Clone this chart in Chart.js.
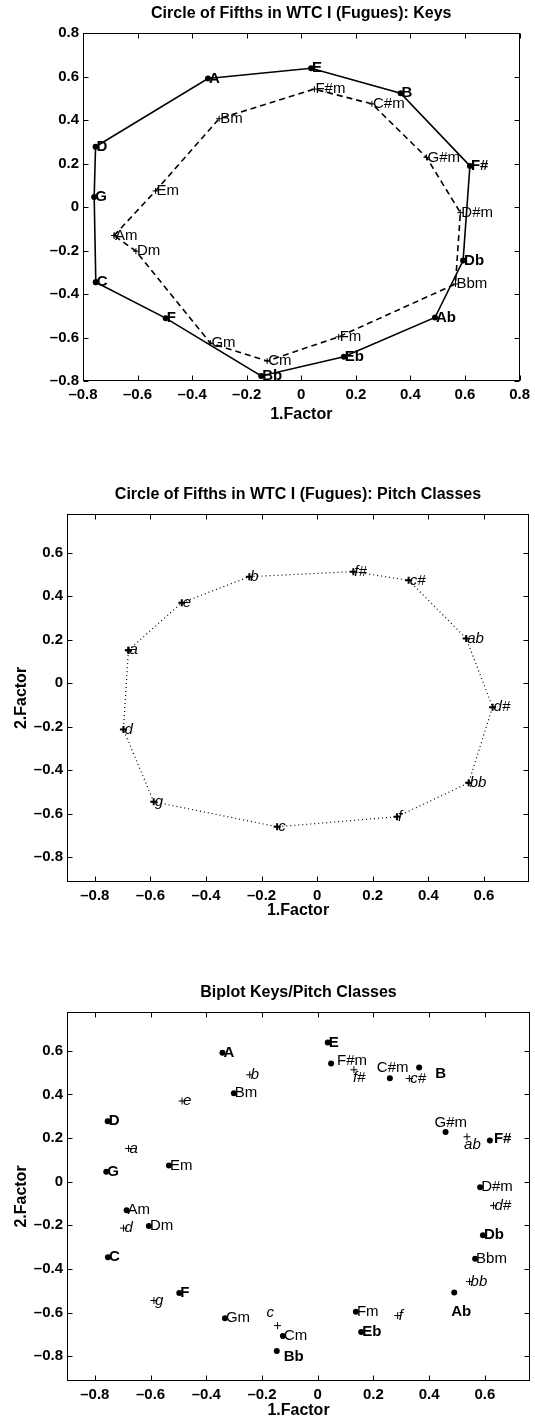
<!DOCTYPE html>
<html>
<head>
<meta charset="utf-8">
<script src="https://cdn.jsdelivr.net/npm/chart.js@4.4.0/dist/chart.umd.min.js"></script>
<style>
  html, body { margin: 0; padding: 0; background: #fff; }
  #page { position: relative; width: 535px; height: 1421px; overflow: hidden; }
  canvas { position: absolute; left: 0; }
</style>
</head>
<body>
<div id="page">
  <canvas id="keysChart" width="535" height="425" style="top:0px"></canvas>
  <canvas id="pitchChart" width="535" height="450" style="top:470px"></canvas>
  <canvas id="biplotChart" width="535" height="461" style="top:960px"></canvas>
</div>
<script>
// keys, in circle-of-fifths order (factor 1 = x, factor 2 = y)
const majorKeys = ['C', 'G', 'D', 'A', 'E', 'B', 'F#', 'Db', 'Ab', 'Eb', 'Bb', 'F'];
const majorX = [-0.753, -0.759, -0.754, -0.342, 0.036, 0.364, 0.618, 0.593, 0.490, 0.156, -0.147, -0.497];
const majorY = [-0.346, 0.046, 0.277, 0.591, 0.638, 0.523, 0.189, -0.246, -0.508, -0.689, -0.777, -0.511];

const minorKeys = ['Am', 'Em', 'Bm', 'F#m', 'C#m', 'G#m', 'D#m', 'Bbm', 'Fm', 'Cm', 'Gm', 'Dm'];
const minorX = [-0.686, -0.534, -0.301, 0.048, 0.259, 0.459, 0.583, 0.565, 0.137, -0.125, -0.333, -0.606];
const minorY = [-0.131, 0.074, 0.406, 0.542, 0.474, 0.228, -0.026, -0.354, -0.597, -0.708, -0.626, -0.203];

// pitch classes
const pitchClasses = ['a', 'e', 'b', 'f#', 'c#', 'ab', 'd#', 'bb', 'f', 'c', 'g', 'd'];
const pitchX = [-0.679, -0.487, -0.244, 0.130, 0.329, 0.536, 0.631, 0.545, 0.287, -0.144, -0.588, -0.697];
const pitchY = [0.152, 0.370, 0.490, 0.513, 0.473, 0.206, -0.110, -0.458, -0.614, -0.660, -0.545, -0.213];

const keyTicks = [-0.8, -0.6, -0.4, -0.2, 0, 0.2, 0.4, 0.6, 0.8];
const pcTicks = [-0.8, -0.6, -0.4, -0.2, 0, 0.2, 0.4, 0.6];

const FONT = '"Liberation Sans", Arial, Helvetica, sans-serif';

function points(xs, ys) {
  return xs.map((x, i) => ({ x: x, y: ys[i] }));
}
function loop(xs, ys) {
  const pts = points(xs, ys);
  pts.push({ x: xs[0], y: ys[0] });
  return pts;
}
function fmt(v) {
  if (Math.abs(v) < 1e-9) return '0';
  return (v < 0 ? '\u2013' : '') + Math.abs(v).toFixed(1);
}

// box, inward tick marks on all four sides, and the title
const framePlugin = {
  id: 'frame',
  afterDraw(chart, args, opts) {
    const { ctx, chartArea: a, scales } = chart;
    const L = Math.round(a.left) + 0.5, R = Math.round(a.right) - 0.5;
    const T = Math.round(a.top) + 0.5, B = Math.round(a.bottom) - 0.5;
    ctx.save();
    ctx.strokeStyle = '#000';
    ctx.lineWidth = 1;
    ctx.strokeRect(L, T, R - L, B - T);
    ctx.beginPath();
    scales.x.ticks.forEach(t => {
      const px = Math.round(scales.x.getPixelForValue(t.value)) + 0.5;
      ctx.moveTo(px, B); ctx.lineTo(px, B - 5);
      ctx.moveTo(px, T); ctx.lineTo(px, T + 5);
    });
    scales.y.ticks.forEach(t => {
      const py = Math.round(scales.y.getPixelForValue(t.value)) + 0.5;
      ctx.moveTo(L, py); ctx.lineTo(L + 5, py);
      ctx.moveTo(R, py); ctx.lineTo(R - 5, py);
    });
    ctx.stroke();
    ctx.fillStyle = '#000';
    ctx.font = 'bold 16px ' + FONT;
    ctx.textAlign = 'center';
    ctx.textBaseline = 'middle';
    ctx.fillText(opts.title, (a.left + a.right) / 2, a.top - 19);
    ctx.restore();
  }
};

// text next to each point, like MATLAB text()
const labelPlugin = {
  id: 'pointLabels',
  afterDatasetsDraw(chart, args, opts) {
    const ctx = chart.ctx;
    const xs = chart.scales.x, ys = chart.scales.y;
    const offsets = opts.offsets || {};
    ctx.save();
    ctx.fillStyle = '#000';
    ctx.textAlign = 'left';
    ctx.textBaseline = 'middle';
    opts.sets.forEach(set => {
      const data = chart.data.datasets[set.dataset].data;
      ctx.font = set.font;
      set.labels.forEach((txt, i) => {
        const off = offsets[txt] || [1, 0];
        ctx.fillText(txt, xs.getPixelForValue(data[i].x) + off[0], ys.getPixelForValue(data[i].y) + off[1]);
      });
    });
    ctx.restore();
  }
};

function makeScales(cfg) {
  return {
    x: {
      type: 'linear', min: cfg.xMin, max: cfg.xMax,
      afterBuildTicks: s => { s.ticks = cfg.xTicks.map(v => ({ value: v })); },
      afterFit: s => { s.height = cfg.xAxisHeight; },
      grid: { display: false, drawTicks: false },
      border: { display: false },
      ticks: {
        callback: v => fmt(v), color: '#000', padding: 5, maxRotation: 0, autoSkip: false,
        font: { family: FONT, size: 15, weight: 'bold' }
      },
      title: {
        display: true, text: '1.Factor', color: '#000',
        padding: { top: 0, bottom: cfg.xTitlePad },
        font: { family: FONT, size: 16, weight: 'bold' }
      }
    },
    y: {
      type: 'linear', min: cfg.yMin, max: cfg.yMax,
      afterBuildTicks: s => { s.ticks = cfg.yTicks.map(v => ({ value: v })); },
      afterFit: s => { s.width = cfg.left; },
      grid: { display: false, drawTicks: false },
      border: { display: false },
      ticks: {
        callback: v => fmt(v), color: '#000', padding: 4, autoSkip: false,
        font: { family: FONT, size: 15, weight: 'bold' }
      },
      title: {
        display: cfg.yTitle, text: '2.Factor', color: '#000',
        padding: { top: 12, bottom: 0 },
        font: { family: FONT, size: 16, weight: 'bold' }
      }
    }
  };
}

const commonOptions = {
  responsive: false,
  animation: false,
  events: []
};

document.addEventListener('DOMContentLoaded', () => {
  new Chart(document.getElementById('keysChart').getContext('2d'), {
    type: 'scatter',
    data: {
      datasets: [{
        data: loop(majorX, majorY),
        showLine: true,
        borderColor: '#000',
        borderWidth: 1.6,
        pointStyle: 'circle',
        pointRadius: 3,
        pointBorderWidth: 0,
        pointBackgroundColor: '#000'
      }, {
        data: loop(minorX, minorY),
        showLine: true,
        borderColor: '#000',
        borderWidth: 1.6,
        borderDash: [6, 4],
        pointStyle: 'cross',
        pointRadius: 3,
        pointBorderWidth: 1
      }]
    },
    options: Object.assign({}, commonOptions, {
      layout: { padding: { top: 33, right: 11, bottom: 0, left: 0 } },
      scales: makeScales({
        xMin: -0.8, xMax: 0.8, yMin: -0.8, yMax: 0.8,
        xTicks: keyTicks, yTicks: keyTicks,
        left: 83, xAxisHeight: 44, xTitlePad: 1, yTitle: false
      }),
      plugins: {
        legend: { display: false },
        tooltip: { enabled: false },
        frame: { title: 'Circle of Fifths in WTC I (Fugues): Keys' },
        pointLabels: {
          sets: [
            { dataset: 0, labels: majorKeys, font: 'bold 15px ' + FONT },
            { dataset: 1, labels: minorKeys, font: '15px ' + FONT }
          ]
        }
      }
    }),
    plugins: [framePlugin, labelPlugin]
  });

  new Chart(document.getElementById('pitchChart').getContext('2d'), {
    type: 'scatter',
    data: {
      datasets: [{
        data: loop(pitchX, pitchY),
        showLine: true,
        borderColor: '#000',
        borderWidth: 1.2,
        borderDash: [1, 3],
        pointStyle: 'cross',
        pointRadius: 3.5,
        pointBorderWidth: 2
      }]
    },
    options: Object.assign({}, commonOptions, {
      layout: { padding: { top: 44, right: 1, bottom: 0, left: 0 } },
      scales: makeScales({
        xMin: -0.9, xMax: 0.762, yMin: -0.914, yMax: 0.778,
        xTicks: pcTicks, yTicks: pcTicks,
        left: 67, xAxisHeight: 38, xTitlePad: 0, yTitle: true
      }),
      plugins: {
        legend: { display: false },
        tooltip: { enabled: false },
        frame: { title: 'Circle of Fifths in WTC I (Fugues): Pitch Classes' },
        pointLabels: {
          sets: [
            { dataset: 0, labels: pitchClasses, font: 'italic 15px ' + FONT }
          ]
        }
      }
    }),
    plugins: [framePlugin, labelPlugin]
  });

  new Chart(document.getElementById('biplotChart').getContext('2d'), {
    type: 'scatter',
    data: {
      datasets: [{
        data: points(majorX, majorY),
        pointStyle: 'circle',
        pointRadius: 3,
        pointBorderWidth: 0,
        pointBackgroundColor: '#000'
      }, {
        data: points(minorX, minorY),
        pointStyle: 'circle',
        pointRadius: 3,
        pointBorderWidth: 0,
        pointBackgroundColor: '#000'
      }, {
        data: points(pitchX, pitchY),
        borderColor: '#000',
        pointStyle: 'cross',
        pointRadius: 3.5,
        pointBorderWidth: 1
      }]
    },
    options: Object.assign({}, commonOptions, {
      layout: { padding: { top: 52, right: 1, bottom: 0, left: 0 } },
      scales: makeScales({
        xMin: -0.9, xMax: 0.762, yMin: -0.914, yMax: 0.778,
        xTicks: pcTicks, yTicks: pcTicks,
        left: 67, xAxisHeight: 40, xTitlePad: 1, yTitle: true
      }),
      plugins: {
        legend: { display: false },
        tooltip: { enabled: false },
        frame: { title: 'Biplot Keys/Pitch Classes' },
        pointLabels: {
          sets: [
            { dataset: 0, labels: majorKeys, font: 'bold 15px ' + FONT },
            { dataset: 1, labels: minorKeys, font: '15px ' + FONT },
            { dataset: 2, labels: pitchClasses, font: 'italic 15px ' + FONT }
          ],
          // labels moved off their point to avoid overlaps
          offsets: {
            'F#m': [6, -3], 'C#m': [-13, -10], 'B': [16, 6], 'f#': [-1, 8],
            'G#m': [-11, -9], 'ab': [-3, 8], 'Ab': [-3, 19], 'Bb': [7, 6],
            'c': [-11, -13], 'F#': [4, -2]
          }
        }
      }
    }),
    plugins: [framePlugin, labelPlugin]
  });
});
</script>
</body>
</html>
